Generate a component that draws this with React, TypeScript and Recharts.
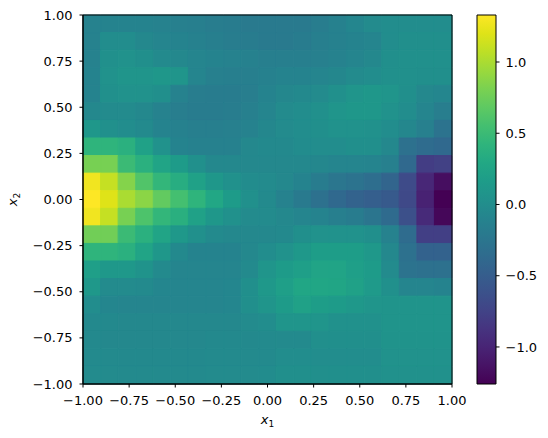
import React from 'react';
import { ScatterChart, Scatter, XAxis, YAxis, ReferenceArea, ComposedChart } from 'recharts';

// grid: 21 x 21 cells over [-1,1] x [-1,1]; rows listed from top (x2 = +1) to bottom (x2 = -1)
const N = 21;
const cellEdges: number[] = Array.from({ length: N + 1 }, (_, k) => -1 + (2 * k) / N);

const zRows: number[][] = [
  [-0.12, -0.1, -0.1, -0.1, -0.12, -0.14, -0.15, -0.17, -0.18, -0.2, -0.2, -0.2, -0.2, -0.17, -0.13, -0.07, -0.02, 0.0, 0.0, 0.0, 0.0],
  [-0.12, 0.0, 0.0, -0.05, -0.08, -0.1, -0.13, -0.15, -0.17, -0.18, -0.2, -0.2, -0.18, -0.15, -0.13, -0.1, -0.08, 0.0, 0.02, 0.02, 0.02],
  [-0.12, 0.03, 0.05, 0.02, -0.03, -0.05, -0.08, -0.1, -0.12, -0.13, -0.15, -0.15, -0.15, -0.14, -0.12, -0.08, -0.05, 0.02, 0.03, 0.03, 0.03],
  [-0.1, 0.05, 0.08, 0.08, 0.1, 0.08, -0.08, -0.14, -0.15, -0.15, -0.13, -0.1, -0.1, -0.08, -0.06, -0.02, 0.0, 0.03, 0.03, 0.02, 0.02],
  [-0.1, 0.03, 0.05, 0.05, 0.02, -0.12, -0.17, -0.18, -0.18, -0.16, -0.1, -0.06, -0.04, -0.02, 0.03, 0.08, 0.1, 0.08, 0.02, -0.05, -0.07],
  [-0.05, -0.02, -0.02, -0.05, -0.12, -0.16, -0.18, -0.18, -0.17, -0.14, -0.08, -0.02, 0.0, 0.03, 0.08, 0.1, 0.1, 0.05, 0.0, -0.08, -0.16],
  [0.1, 0.03, 0.0, -0.03, -0.1, -0.13, -0.15, -0.15, -0.14, -0.12, -0.06, -0.02, 0.0, 0.02, 0.05, 0.05, 0.04, 0.0, -0.06, -0.14, -0.28],
  [0.42, 0.42, 0.38, 0.22, 0.05, -0.1, -0.13, -0.13, -0.13, -0.05, -0.04, -0.04, -0.01, 0.0, 0.0, 0.02, 0.02, -0.05, -0.3, -0.35, -0.38],
  [0.8, 0.8, 0.5, 0.38, 0.25, 0.15, 0.03, -0.05, -0.05, -0.05, -0.05, -0.05, -0.05, -0.06, -0.08, -0.08, -0.09, -0.14, -0.38, -0.8, -0.77],
  [1.28, 1.1, 0.85, 0.62, 0.45, 0.35, 0.22, 0.1, 0.04, -0.01, -0.02, -0.05, -0.1, -0.18, -0.25, -0.28, -0.33, -0.42, -0.68, -0.98, -1.17],
  [1.33, 1.2, 1.0, 0.88, 0.7, 0.55, 0.42, 0.28, 0.15, 0.03, -0.03, -0.12, -0.2, -0.3, -0.38, -0.44, -0.48, -0.53, -0.7, -1.02, -1.26],
  [1.28, 1.1, 0.8, 0.6, 0.45, 0.37, 0.22, 0.1, 0.04, -0.02, -0.02, -0.05, -0.08, -0.1, -0.15, -0.18, -0.26, -0.36, -0.63, -0.95, -1.22],
  [0.77, 0.77, 0.5, 0.38, 0.25, 0.12, 0.03, -0.03, -0.05, -0.05, -0.05, -0.04, 0.02, 0.05, 0.05, 0.05, 0.02, -0.12, -0.35, -0.78, -0.78],
  [0.42, 0.42, 0.38, 0.25, 0.1, -0.04, -0.1, -0.1, -0.1, -0.05, 0.0, 0.05, 0.12, 0.18, 0.18, 0.18, 0.12, -0.05, -0.3, -0.45, -0.45],
  [0.2, 0.12, 0.12, 0.06, -0.03, -0.08, -0.08, -0.08, -0.08, -0.03, 0.08, 0.15, 0.2, 0.25, 0.25, 0.2, 0.15, -0.02, -0.28, -0.3, -0.3],
  [0.12, -0.02, -0.02, -0.03, -0.07, -0.08, -0.08, -0.08, -0.07, 0.02, 0.12, 0.2, 0.27, 0.27, 0.26, 0.22, 0.14, 0.03, -0.08, -0.08, -0.1],
  [0.0, -0.07, -0.08, -0.08, -0.08, -0.08, -0.08, -0.08, -0.07, 0.02, 0.08, 0.15, 0.22, 0.18, 0.15, 0.12, 0.08, 0.07, 0.07, 0.07, 0.07],
  [-0.04, -0.04, -0.05, -0.05, -0.05, -0.05, -0.05, -0.05, -0.05, -0.02, 0.0, 0.08, 0.08, 0.08, 0.04, 0.04, 0.04, 0.07, 0.07, 0.07, 0.07],
  [-0.04, -0.05, -0.05, -0.05, -0.05, -0.05, -0.05, -0.04, -0.04, -0.04, -0.03, -0.03, -0.03, 0.02, 0.02, 0.02, 0.02, 0.06, 0.06, 0.06, 0.06],
  [-0.03, -0.03, -0.04, -0.04, -0.04, -0.04, -0.04, -0.03, -0.03, -0.03, -0.03, 0.0, 0.0, 0.0, 0.0, 0.0, 0.0, 0.05, 0.05, 0.05, 0.05],
  [-0.02, -0.02, -0.03, -0.03, -0.03, -0.03, -0.03, -0.02, -0.02, -0.02, -0.01, 0.02, 0.02, 0.02, 0.02, 0.02, 0.02, 0.04, 0.04, 0.04, 0.04],
];

const axisTicks = [-1, -0.75, -0.5, -0.25, 0, 0.25, 0.5, 0.75, 1];
const colorbarTicks = [-1, -0.5, 0, 0.5, 1];
const vmin = -1.26;
const vmax = 1.33;

const viridisStops = [
  '#440154', '#471365', '#482475', '#463480', '#414487', '#3b528b', '#355f8d',
  '#2f6c8e', '#2a788e', '#25848e', '#21918c', '#1e9c89', '#22a884', '#2fb47c',
  '#44bf70', '#5ec962', '#7ad151', '#9bd93c', '#bddf26', '#dfe318', '#fde725',
];

function hexToRgb(h: string) {
  return [parseInt(h.slice(1, 3), 16), parseInt(h.slice(3, 5), 16), parseInt(h.slice(5, 7), 16)];
}

function viridis(v: number): string {
  let t = (v - vmin) / (vmax - vmin);
  t = Math.max(0, Math.min(1, t));
  const p = t * (viridisStops.length - 1);
  const i = Math.min(Math.floor(p), viridisStops.length - 2);
  const f = p - i;
  const a = hexToRgb(viridisStops[i]);
  const b = hexToRgb(viridisStops[i + 1]);
  const c = a.map((av, k) => Math.round(av + (b[k] - av) * f));
  return `rgb(${c[0]},${c[1]},${c[2]})`;
}

const FONT = 'DejaVu Sans';
const minus = (s: string) => s.replace('-', '\u2212');
const fmt2 = (v: number) => minus(v.toFixed(2));
const fmt1 = (v: number) => minus(v.toFixed(1));

type Cell = { x1: number; x2: number; y1: number; y2: number; v: number };
const cells: Cell[] = [];
zRows.forEach((row, r) => {
  row.forEach((v, c) => {
    cells.push({
      x1: cellEdges[c],
      x2: cellEdges[c + 1],
      y1: cellEdges[N - 1 - r],
      y2: cellEdges[N - r],
      v,
    });
  });
});

const centers = cells.map((c) => ({ x: (c.x1 + c.x2) / 2, y: (c.y1 + c.y2) / 2 }));

const XLabel = (props: any) => {
  const vb = props.viewBox || {};
  return (
    <text x={vb.x + vb.width / 2} y={vb.y + 40} textAnchor="middle" fontFamily={FONT} fontSize={13} fill="#000">
      <tspan fontStyle="italic">x</tspan>
      <tspan fontSize={9} dy={3}>1</tspan>
    </text>
  );
};

const YLabel = (props: any) => {
  const vb = props.viewBox || {};
  const cx = 17;
  const cy = vb.y + vb.height / 2;
  return (
    <text x={cx} y={cy} transform={`rotate(-90 ${cx} ${cy})`} textAnchor="middle" fontFamily={FONT} fontSize={13} fill="#000">
      <tspan fontStyle="italic">x</tspan>
      <tspan fontSize={9} dy={3}>2</tspan>
    </text>
  );
};

const tickStyle = { fill: '#000', fontSize: 13, fontFamily: FONT };

export default function App() {
  return (
    <div style={{ position: 'absolute', left: 0, top: 0, width: 548, height: 438, background: '#fff' }}>
      <div style={{ position: 'absolute', left: 0, top: 0 }}>
        <ScatterChart width={475} height={438} margin={{ top: 15, right: 23, bottom: 12, left: 0 }}>
          <XAxis
            type="number"
            dataKey="x"
            domain={[-1, 1]}
            ticks={axisTicks}
            tickFormatter={fmt2}
            allowDataOverflow
            height={42}
            tickSize={3.5}
            tickMargin={8.5}
            stroke="#000"
            tick={tickStyle}
            interval={0}
            label={<XLabel />}
          />
          <YAxis
            type="number"
            dataKey="y"
            domain={[-1, 1]}
            ticks={axisTicks}
            tickFormatter={fmt2}
            allowDataOverflow
            width={83}
            tickSize={3.5}
            tickMargin={7}
            stroke="#000"
            tick={tickStyle}
            interval={0}
            label={<YLabel />}
          />
          {cells.map((c, i) => (
            <ReferenceArea
              key={i}
              x1={c.x1}
              x2={c.x2}
              y1={c.y1}
              y2={c.y2}
              fill={viridis(c.v)}
              fillOpacity={1}
              stroke={viridis(c.v)}
              strokeWidth={1}
              ifOverflow="visible"
            />
          ))}
          <ReferenceArea x1={-1} x2={1} y1={-1} y2={1} fill="none" fillOpacity={0} stroke="#000" strokeWidth={1} ifOverflow="visible" />
          <Scatter data={centers} isAnimationActive={false} shape={() => <g />} />
        </ScatterChart>
      </div>
      <div style={{ position: 'absolute', left: 470, top: 0 }}>
        <ComposedChart width={78} height={438} margin={{ top: 15, right: 0, bottom: 54, left: 7 }}>
          <defs>
            <linearGradient id="viridisGrad" x1="0" y1="0" x2="0" y2="1">
              {viridisStops
                .slice()
                .reverse()
                .map((c, i) => (
                  <stop key={i} offset={`${(i / (viridisStops.length - 1)) * 100}%`} stopColor={c} />
                ))}
            </linearGradient>
          </defs>
          <XAxis type="number" dataKey="x" domain={[0, 1]} hide />
          <YAxis
            type="number"
            dataKey="y"
            orientation="right"
            domain={[vmin, vmax]}
            ticks={colorbarTicks}
            tickFormatter={fmt1}
            allowDataOverflow
            width={52}
            tickSize={3.5}
            tickMargin={6}
            axisLine={false}
            stroke="#000"
            tick={tickStyle}
            interval={0}
          />
          <ReferenceArea x1={0} x2={1} y1={vmin} y2={vmax} fill="url(#viridisGrad)" fillOpacity={1} stroke="#000" strokeWidth={1} ifOverflow="visible" />
          <Scatter data={[{ x: 0.5, y: 0 }]} isAnimationActive={false} shape={() => <g />} />
        </ComposedChart>
      </div>
    </div>
  );
}
